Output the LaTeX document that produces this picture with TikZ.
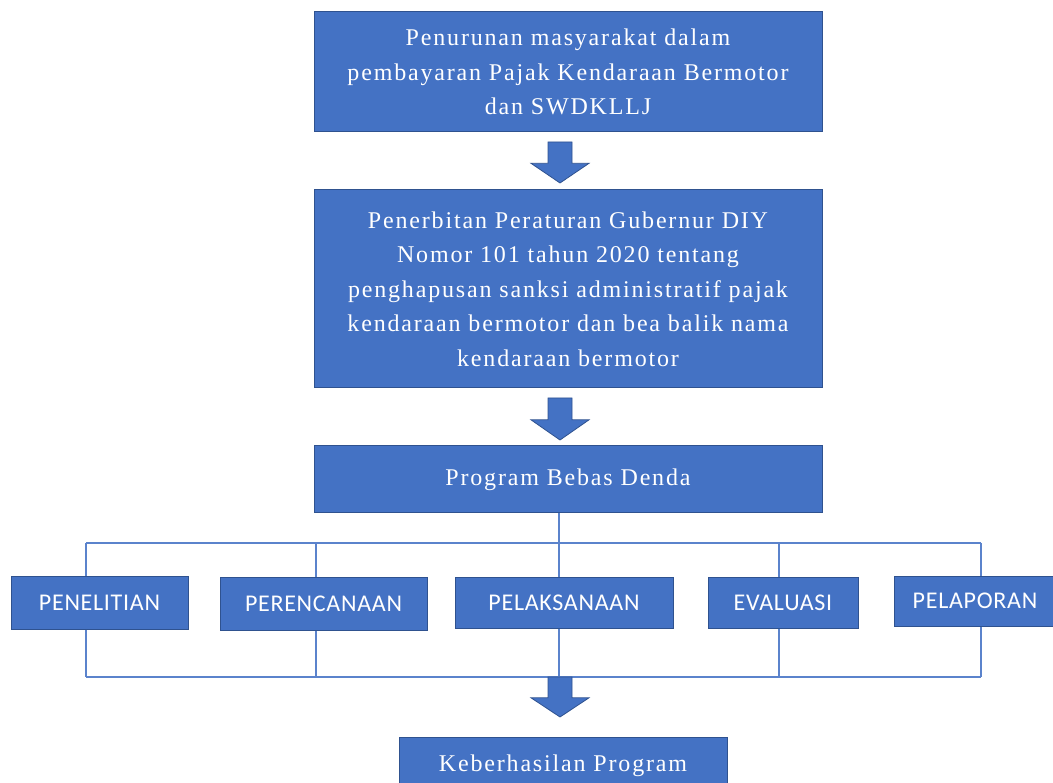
\documentclass[tikz,border=0pt]{standalone}
\usepackage{fontspec}
\setmainfont[LetterSpace=7.6]{Liberation Serif}
\newfontfamily\lblfont[LetterSpace=3]{Carlito}
\usetikzlibrary{calc}
\definecolor{boxblue}{HTML}{4472C4}
\definecolor{edgeblue}{HTML}{2F528F}
\definecolor{lineblue}{HTML}{5B83CC}
\newcommand\blockarrow[2]{%
  \draw[bigarrow] let \p1=(#1), \p2=(#2), \n1={\y1+(\y2-\y1)*0.52} in
    (\x1-12pt,\y1) -- (\x1+12pt,\y1) -- (\x1+12pt,\n1) -- (\x1+29pt,\n1)
    -- (\x2,\y2) -- (\x1-29pt,\n1) -- (\x1-12pt,\n1) -- cycle;}
\begin{document}
\begin{tikzpicture}[x=1pt,y=-1pt,
  mainbox/.style={draw=edgeblue, line width=1pt, fill=boxblue, text=white,
    align=center, inner sep=0pt, font=\fontsize{24}{34.5}\selectfont},
  labelbox/.style={draw=edgeblue, line width=1pt, fill=boxblue, text=white,
    align=center, inner sep=0pt, font=\lblfont\fontsize{24}{26}\selectfont},
  bigarrow/.style={draw=edgeblue, line width=0.8pt, fill=boxblue},
  link/.style={draw=lineblue, line width=1.4pt}]
\useasboundingbox (0,0) rectangle (1053,783);

\node[mainbox, minimum width=508, minimum height=120] (b1) at (568,72)
  {Penurunan masyarakat dalam\\pembayaran Pajak Kendaraan Bermotor\\dan SWDKLLJ};
\node[mainbox, minimum width=508, minimum height=198] (b2) at (568,289)
  {Penerbitan Peraturan Gubernur DIY\\Nomor 101 tahun 2020 tentang\\penghapusan sanksi administratif pajak\\kendaraan bermotor dan bea balik nama\\kendaraan bermotor};
\node[mainbox, minimum width=508, minimum height=67] (b3) at (568,479.5)
  {Program Bebas Denda};

\node[labelbox, minimum width=177, minimum height=53] (pen) at (99.5,602.5) {PENELITIAN};
\node[labelbox, minimum width=207, minimum height=53] (per) at (323.5,603.5) {PERENCANAAN};
\node[labelbox, minimum width=218, minimum height=51] (pel) at (564,602.5) {PELAKSANAAN};
\node[labelbox, minimum width=150, minimum height=51] (eva) at (783,602.5) {EVALUASI};
\node[labelbox, minimum width=162, minimum height=50] (plp) at (975,601) {PELAPORAN};

\node[mainbox, minimum width=328, minimum height=58] (b4) at (563,766)
  {Keberhasilan Program};

% bus lines
\coordinate (tl) at (86,543);
\coordinate (tr) at (981,543);
\coordinate (bl) at (86,677);
\coordinate (br) at (981,677);
\coordinate (tm) at (559,543);
\coordinate (bm) at (559,677);
\coordinate (c2) at (316,543);
\coordinate (c4) at (779,543);

\draw[link] (b3.south -| tm) -- (tm);
\draw[link] (tl) -- (tr);
\draw[link] (bl) -- (br);
\draw[link] (tl) -- (tl |- pen.north);
\draw[link] (tl |- pen.south) -- (bl);
\draw[link] (c2) -- (c2 |- per.north);
\draw[link] (c2 |- per.south) -- (c2 |- bl);
\draw[link] (tm) -- (tm |- pel.north);
\draw[link] (tm |- pel.south) -- (bm);
\draw[link] (c4) -- (c4 |- eva.north);
\draw[link] (c4 |- eva.south) -- (c4 |- bl);
\draw[link] (tr) -- (tr |- plp.north);
\draw[link] (tr |- plp.south) -- (br);

% block arrows
\coordinate (a1t) at (560,142);
\coordinate (a1h) at (560,183);
\coordinate (a2t) at (560,398);
\coordinate (a2h) at (560,440);
\coordinate (a3t) at (560,677);
\coordinate (a3h) at (560,717);
\blockarrow{a1t}{a1h}
\blockarrow{a2t}{a2h}
\blockarrow{a3t}{a3h}
\end{tikzpicture}
\end{document}
